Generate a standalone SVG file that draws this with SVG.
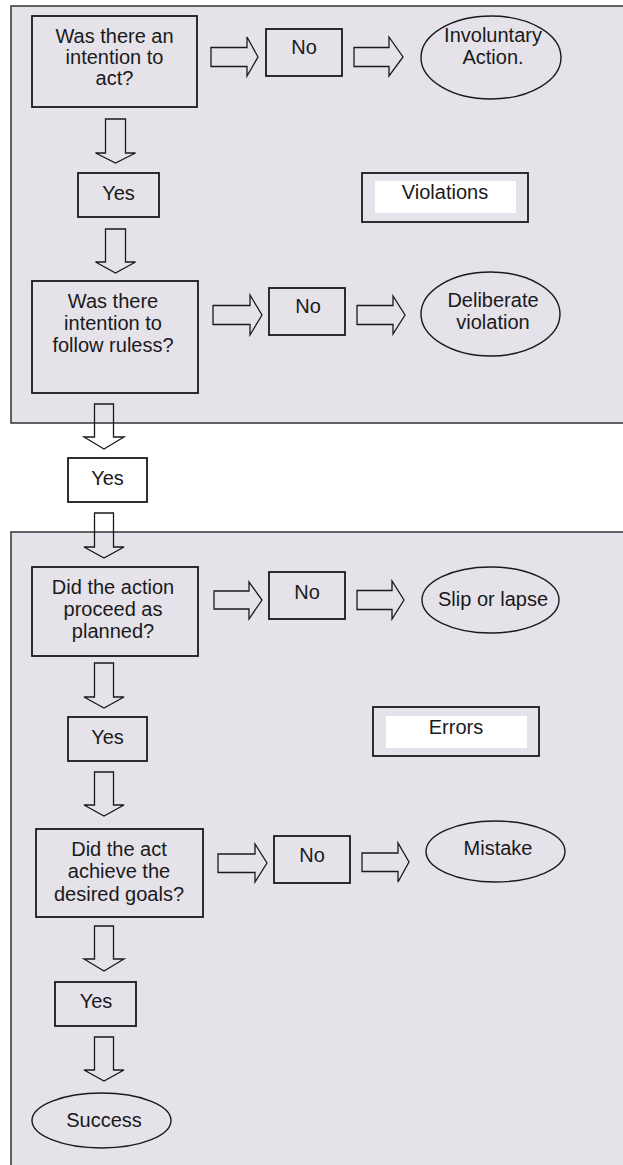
<svg xmlns="http://www.w3.org/2000/svg" width="623" height="1165" viewBox="0 0 623 1165">
  <style>
    .panel { fill: #e5e2ea; stroke: #333; stroke-width: 1.5; }
    .box { fill: none; stroke: #1a1a1a; stroke-width: 1.8; }
    .oval { fill: none; stroke: #1a1a1a; stroke-width: 1.4; }
    .inner { fill: #ffffff; stroke: none; }
    .arrow { fill: none; stroke: #1a1a1a; stroke-width: 1.3; stroke-linejoin: miter; }
    text { font-family: "Liberation Sans", Arial, sans-serif; font-size: 20px; fill: #1a1a1a; text-anchor: middle; }
  </style>

  <rect width="623" height="1165" fill="#ffffff"/>

  <!-- panels: violations (top) and errors (bottom), open on the right -->
  <g id="panel-violations">
    <path class="panel" d="M630,6 H11 V423 H630 Z"/>
  </g>
  <g id="panel-errors">
    <rect x="11" y="532" width="620" height="640" fill="#e5e2ea"/>
    <path d="M630,532 H11 V1170" fill="none" stroke="#333" stroke-width="1.5"/>
  </g>

  <!-- block arrows -->
  <g id="connectors">
    <!-- downward -->
    <polygon class="arrow" points="105.5,119 125.5,119 125.5,153 135.5,153 115.5,163 95.5,153 105.5,153"/>
    <polygon class="arrow" points="105.5,229 125.5,229 125.5,262 135.5,262 115.5,273 95.5,262 105.5,262"/>
    <polygon class="arrow" points="94.5,404 113.5,404 113.5,437 124,437 104,449 84,437 94.5,437"/>
    <polygon class="arrow" points="94.5,513 113.5,513 113.5,547 124,547 104,558 84,547 94.5,547"/>
    <polygon class="arrow" points="94.5,663 113.5,663 113.5,697 124,697 104,708 84,697 94.5,697"/>
    <polygon class="arrow" points="94.5,772 113.5,772 113.5,805 124,805 104,816 84,805 94.5,805"/>
    <polygon class="arrow" points="94.5,926 113.5,926 113.5,959 124,959 104,971 84,959 94.5,959"/>
    <polygon class="arrow" points="94.5,1037 113.5,1037 113.5,1070 124,1070 104,1081 84,1070 94.5,1070"/>
    <!-- rightward -->
    <polygon class="arrow" points="211,47.5 247,47.5 247,37 258,57 247,76 247,66.5 211,66.5"/>
    <polygon class="arrow" points="354,47.5 389,47.5 389,37 403,57 389,76 389,66.5 354,66.5"/>
    <polygon class="arrow" points="213,305.5 250,305.5 250,295 262,315 250,335 250,324.5 213,324.5"/>
    <polygon class="arrow" points="357,305.5 393,305.5 393,296 405,315 393,334 393,324.5 357,324.5"/>
    <polygon class="arrow" points="214,591 249,591 249,582 262,600 249,619 249,609 214,609"/>
    <polygon class="arrow" points="357,590.5 392,590.5 392,581 404,600 392,619 392,609.5 357,609.5"/>
    <polygon class="arrow" points="218,854 255,854 255,844 267,863 255,882 255,872.5 218,872.5"/>
    <polygon class="arrow" points="362,853 398,853 398,843 409,862 398,882 398,871.5 362,871.5"/>
  </g>

  <!-- violations section -->
  <g id="q-intention">
    <rect class="box" x="32" y="16" width="165" height="91"/>
    <text x="114.5" y="43">Was there an</text>
    <text x="114.5" y="64">intention to</text>
    <text x="114.5" y="85">act?</text>
  </g>
  <g id="no-1">
    <rect class="box" x="266" y="29" width="76" height="47"/>
    <text x="304" y="54">No</text>
  </g>
  <g id="involuntary">
    <ellipse class="oval" cx="491" cy="57.5" rx="70" ry="41.5"/>
    <text x="493" y="42">Involuntary</text>
    <text x="493" y="64">Action.</text>
  </g>
  <g id="yes-1">
    <rect class="box" x="78" y="173" width="81" height="44"/>
    <text x="118.5" y="200">Yes</text>
  </g>
  <g id="label-violations">
    <rect class="box" x="362" y="173" width="166" height="49"/>
    <rect class="inner" x="375" y="181" width="141" height="32"/>
    <text x="445" y="199">Violations</text>
  </g>
  <g id="q-rules">
    <rect class="box" x="32" y="281" width="166" height="112"/>
    <text x="113" y="308">Was there</text>
    <text x="113" y="330">intention to</text>
    <text x="113" y="352">follow ruless?</text>
  </g>
  <g id="no-2">
    <rect class="box" x="269" y="288" width="76" height="47"/>
    <text x="308" y="313">No</text>
  </g>
  <g id="deliberate">
    <ellipse class="oval" cx="490.5" cy="314" rx="69.5" ry="42"/>
    <text x="493" y="307">Deliberate</text>
    <text x="493" y="329">violation</text>
  </g>

  <g id="yes-2">
    <rect class="box" x="68" y="458" width="79" height="44"/>
    <text x="107.5" y="485">Yes</text>
  </g>

  <!-- errors section -->
  <g id="q-planned">
    <rect class="box" x="32" y="567" width="166" height="89"/>
    <text x="113" y="594">Did the action</text>
    <text x="113" y="616">proceed as</text>
    <text x="113" y="638">planned?</text>
  </g>
  <g id="no-3">
    <rect class="box" x="269" y="572" width="76" height="47"/>
    <text x="307" y="599">No</text>
  </g>
  <g id="slip">
    <ellipse class="oval" cx="490.5" cy="600" rx="68.5" ry="33"/>
    <text x="493" y="606">Slip or lapse</text>
  </g>
  <g id="yes-3">
    <rect class="box" x="68" y="717" width="79" height="44"/>
    <text x="107.5" y="744">Yes</text>
  </g>
  <g id="label-errors">
    <rect class="box" x="373" y="707" width="166" height="49"/>
    <rect class="inner" x="386" y="716" width="141" height="32"/>
    <text x="456" y="734">Errors</text>
  </g>
  <g id="q-goals">
    <rect class="box" x="36" y="829" width="167" height="88"/>
    <text x="119" y="856">Did the act</text>
    <text x="119" y="878">achieve the</text>
    <text x="119" y="901">desired goals?</text>
  </g>
  <g id="no-4">
    <rect class="box" x="274" y="836" width="76" height="47"/>
    <text x="312" y="862">No</text>
  </g>
  <g id="mistake">
    <ellipse class="oval" cx="495.5" cy="851.5" rx="69.5" ry="30.5"/>
    <text x="498" y="855">Mistake</text>
  </g>
  <g id="yes-4">
    <rect class="box" x="55" y="982" width="81" height="44"/>
    <text x="96" y="1008">Yes</text>
  </g>
  <g id="success">
    <ellipse class="oval" cx="101.5" cy="1120.5" rx="69.5" ry="27.5"/>
    <text x="104" y="1127">Success</text>
  </g>
</svg>
